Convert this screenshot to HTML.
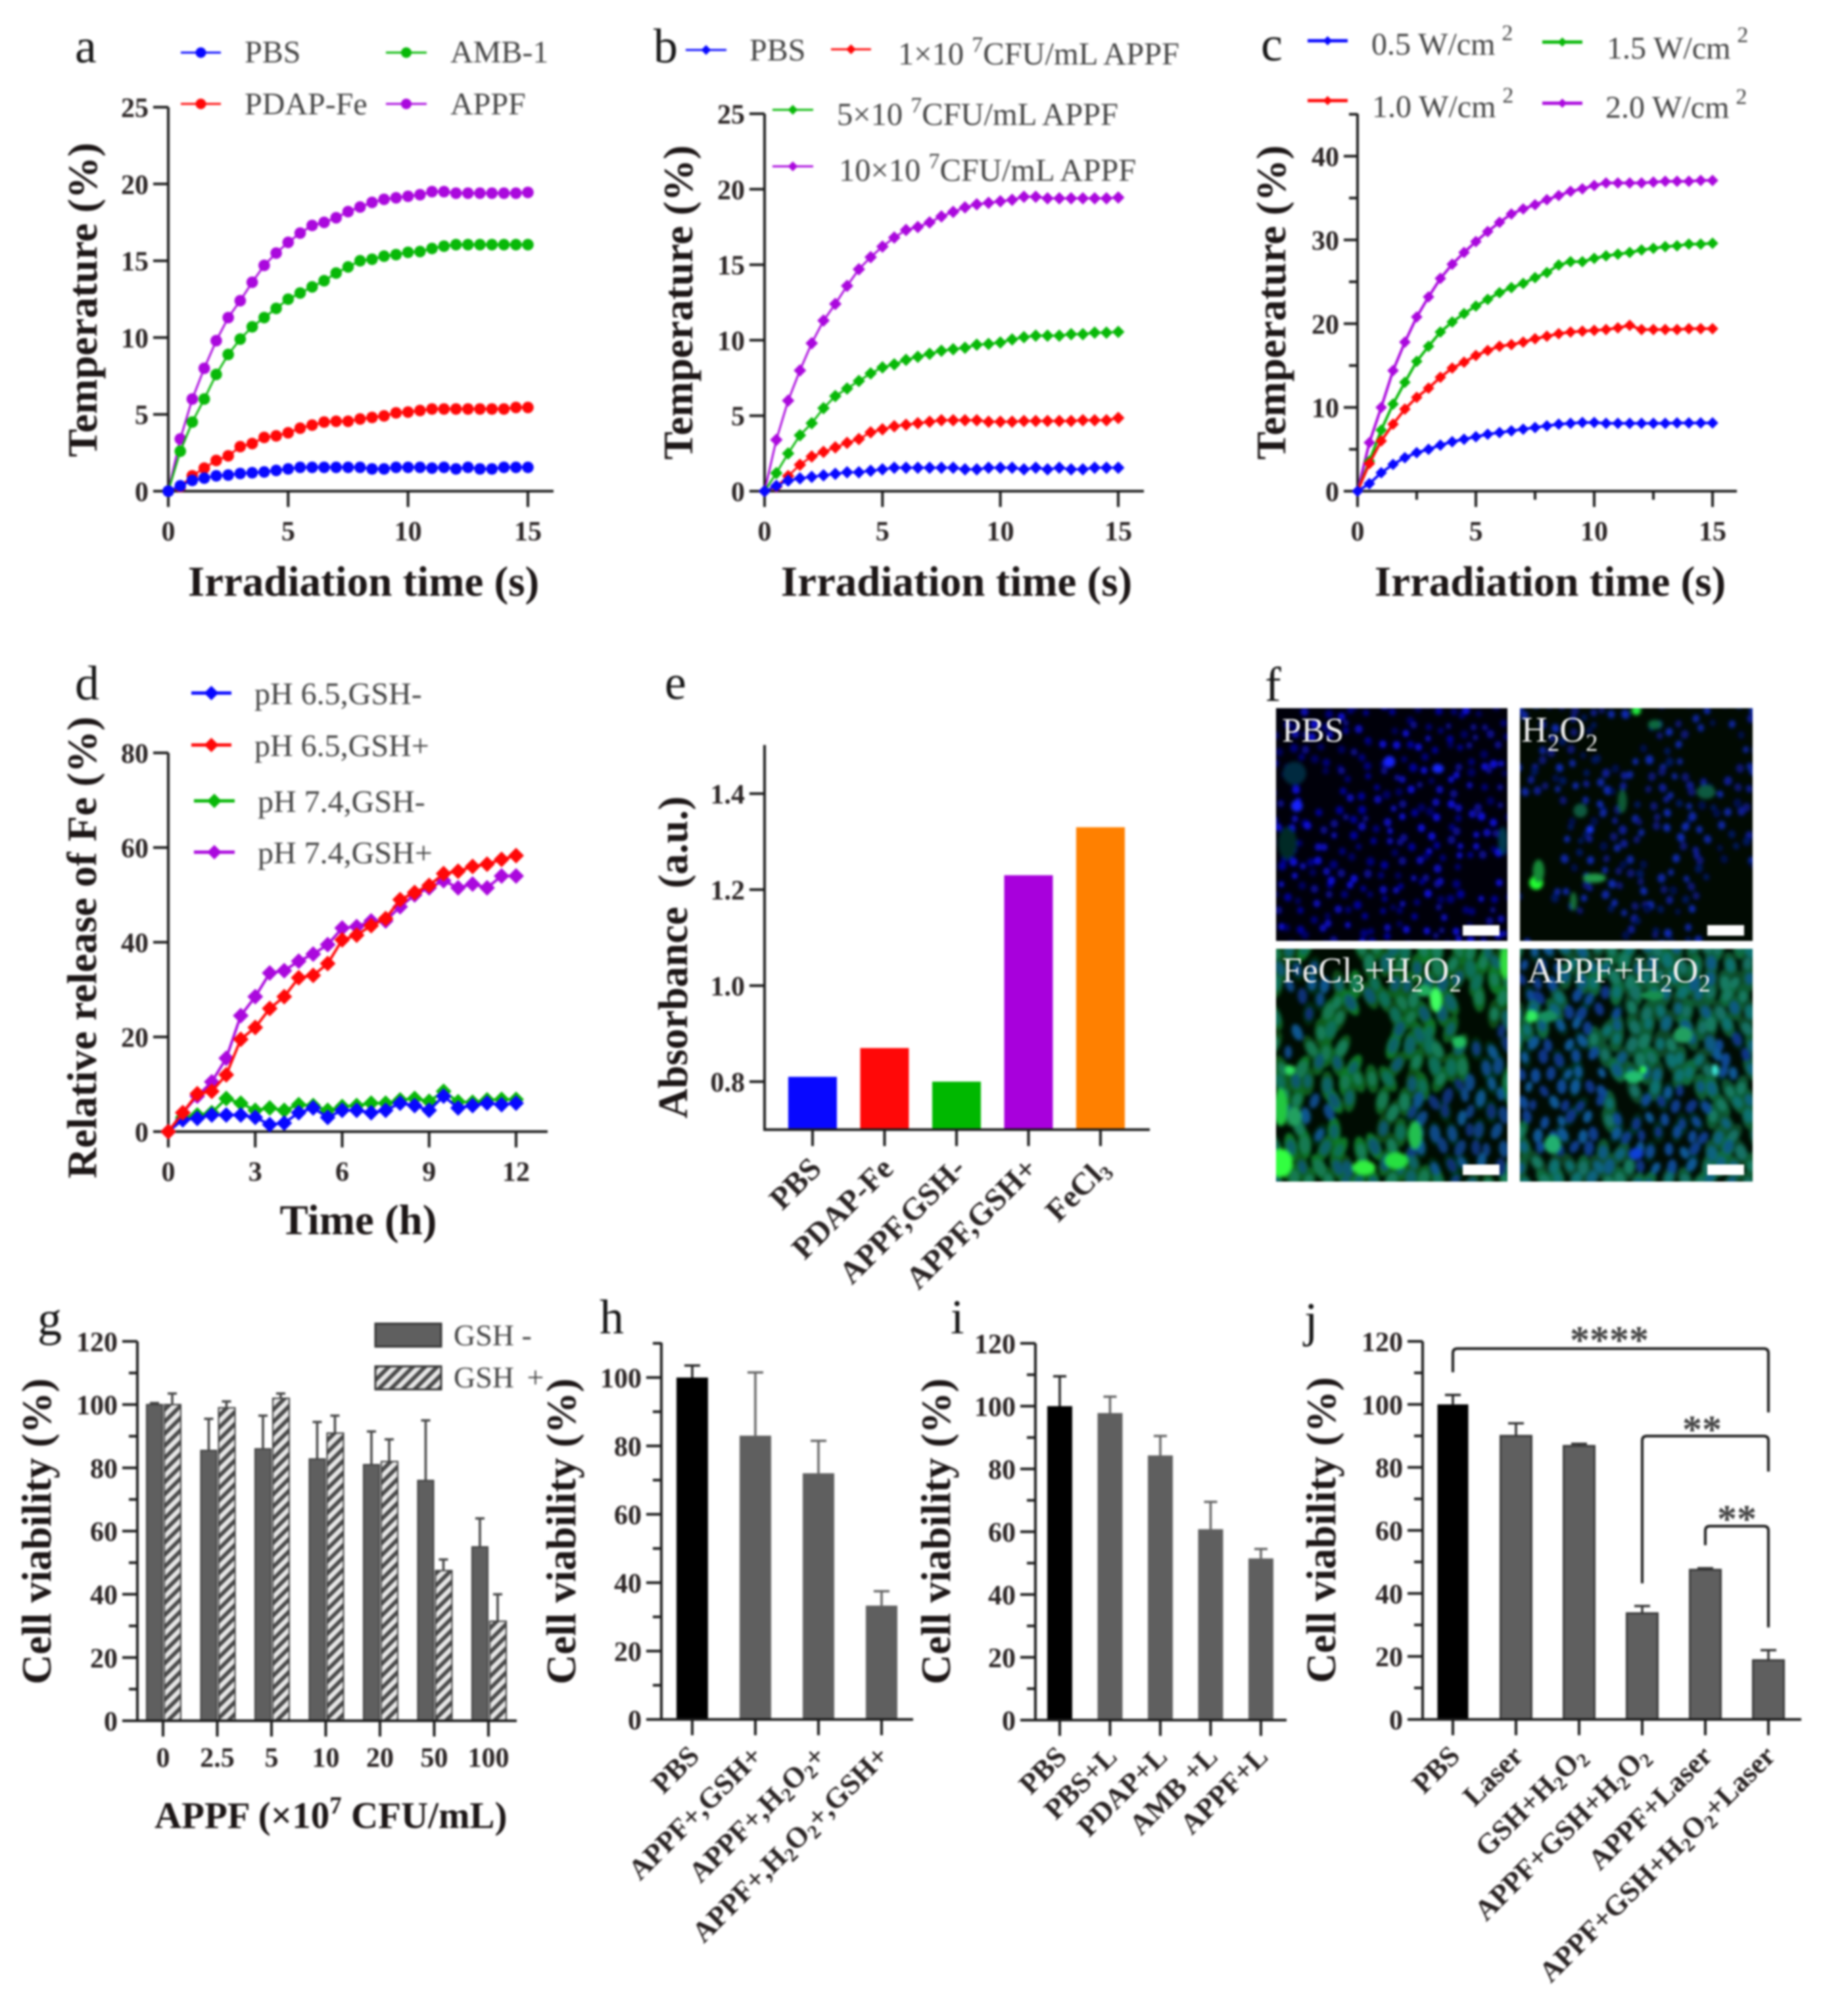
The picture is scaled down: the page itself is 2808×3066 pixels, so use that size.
<!DOCTYPE html>
<html lang="en">
<head>
<meta charset="utf-8">
<title>Multi-panel figure a–j</title>
<style>
html,body{margin:0;padding:0;background:#fff;}
#figure{display:block;width:2808px;height:3066px;filter:blur(1.5px);}
text{font-family:"Liberation Serif",serif;}
.ttl{font-weight:700;font-size:64px;fill:#1c1616;}
.ttlx{font-weight:700;font-size:65px;fill:#1c1616;}
.ttl2{font-weight:700;font-size:63px;fill:#1c1616;}
.tick{font-weight:700;font-size:42px;fill:#2a2424;}
.cat{font-weight:700;font-size:44px;fill:#2a2424;}
.leg{font-size:48px;fill:#444;}
.let{font-size:74px;fill:#161616;}
.pl{font-size:55px;fill:#f0f0f0;}
.star{font-size:60px;fill:#444;font-weight:700;}
</style>
</head>
<body>
<svg id="figure" xmlns="http://www.w3.org/2000/svg" width="2808" height="3066" viewBox="0 0 2808 3066">
<defs>
<pattern id="hatch" patternUnits="userSpaceOnUse" width="13" height="13" patternTransform="rotate(45)">
<rect width="13" height="13" fill="#e6e6e6"/>
<rect x="0" width="6" height="13" fill="#4a4a4a"/>
</pattern>
<filter id="soft" x="-5%" y="-5%" width="110%" height="110%"><feGaussianBlur stdDeviation="2.6"/></filter>
<clipPath id="clipF1"><rect x="1941" y="1077" width="352" height="354"/></clipPath>
<clipPath id="clipF2"><rect x="2312" y="1077" width="354" height="354"/></clipPath>
<clipPath id="clipF3"><rect x="1941" y="1443" width="352" height="354"/></clipPath>
<clipPath id="clipF4"><rect x="2312" y="1443" width="354" height="354"/></clipPath>
</defs>

<!-- panel letters -->
<text class="let" x="114" y="95">a</text>
<text class="let" x="994" y="95">b</text>
<text class="let" x="1918" y="92">c</text>
<text class="let" x="114" y="1064">d</text>
<text class="let" x="1011" y="1063">e</text>
<text class="let" x="1924" y="1066">f</text>
<text class="let" x="57" y="2030">g</text>
<text class="let" x="912" y="2028">h</text>
<text class="let" x="1446" y="2028">i</text>
<text class="let" x="1984" y="2032">j</text>

<!-- axis titles -->
<text class="ttl" text-anchor="middle" transform="translate(147,456) rotate(-90)">Temperature (%)</text>
<text class="ttlx" text-anchor="middle" x="553" y="906">Irradiation time (s)</text>
<text class="ttl" text-anchor="middle" transform="translate(1053,460) rotate(-90)">Temperature (%)</text>
<text class="ttlx" text-anchor="middle" x="1455" y="906">Irradiation time (s)</text>
<text class="ttl" text-anchor="middle" transform="translate(1955,460) rotate(-90)">Temperature (%)</text>
<text class="ttlx" text-anchor="middle" x="2358" y="906">Irradiation time (s)</text>
<text class="ttl" text-anchor="middle" transform="translate(146,1441) rotate(-90)">Relative release of Fe (%)</text>
<text class="ttlx" text-anchor="middle" x="545" y="1877">Time (h)</text>
<text class="ttl2" text-anchor="middle" transform="translate(1045,1456) rotate(-90)">Absorbance<tspan dx="28">(a.u.)</tspan></text>
<text class="ttl2" text-anchor="middle" transform="translate(77,2329) rotate(-90)">Cell viability (%)</text>
<text class="ttl" style="font-size:57px" x="235" y="2780">APPF (×10<tspan dy="-22" font-size="37">7</tspan><tspan dy="22"> CFU/mL)</tspan></text>
<text class="ttl2" text-anchor="middle" transform="translate(875,2329) rotate(-90)">Cell viability (%)</text>
<text class="ttl2" text-anchor="middle" transform="translate(1445,2329) rotate(-90)">Cell viability (%)</text>
<text class="ttl2" text-anchor="middle" transform="translate(2031,2327) rotate(-90)">Cell viability (%)</text>

<!-- legend text -->
<text class="leg" x="372" y="95">PBS</text>
<text class="leg" x="685" y="95">AMB-1</text>
<text class="leg" x="372" y="174">PDAP-Fe</text>
<text class="leg" x="685" y="174">APPF</text>

<text class="leg" x="1140" y="92">PBS</text>
<text class="leg" style="font-size:48.5px" x="1366" y="98">1×10 <tspan dy="-19" font-size="34">7</tspan><tspan dy="19">CFU/mL APPF</tspan></text>
<text class="leg" style="font-size:48.5px" x="1273" y="190">5×10 <tspan dy="-19" font-size="34">7</tspan><tspan dy="19">CFU/mL APPF</tspan></text>
<text class="leg" style="font-size:48.5px" x="1276" y="275">10×10 <tspan dy="-19" font-size="34">7</tspan><tspan dy="19">CFU/mL APPF</tspan></text>

<text class="leg" x="2086" y="83">0.5 W/cm<tspan dx="10" dy="-22" font-size="34">2</tspan></text>
<text class="leg" x="2444" y="89">1.5 W/cm<tspan dx="10" dy="-25" font-size="34">2</tspan></text>
<text class="leg" x="2087" y="178">1.0 W/cm<tspan dx="10" dy="-22" font-size="34">2</tspan></text>
<text class="leg" x="2442" y="179">2.0 W/cm<tspan dx="10" dy="-21" font-size="34">2</tspan></text>

<text class="leg" x="387" y="1071">pH 6.5,GSH-</text>
<text class="leg" x="387" y="1150">pH 6.5,GSH+</text>
<text class="leg" x="392" y="1235">pH 7.4,GSH-</text>
<text class="leg" x="392" y="1313">pH 7.4,GSH+</text>

<rect x="571" y="2013" width="100" height="35" fill="#5f5f5f" stroke="#333" stroke-width="3"/>
<rect x="571" y="2078" width="100" height="35" fill="url(#hatch)" stroke="#333" stroke-width="3"/>
<text class="leg" style="font-size:46px" x="690" y="2046">GSH -</text>
<text class="leg" style="font-size:46px" x="690" y="2110">GSH <tspan dx="8">+</tspan></text>

<g id="layerF"></g>
<g id="layerCharts"></g>

<!-- panel f overlays -->
<g>
<text class="pl" style="font-size:53px" x="1950" y="1128">PBS</text>
<text class="pl" x="2314" y="1128">H<tspan dy="14" font-size="37">2</tspan><tspan dy="-14">O</tspan><tspan dy="14" font-size="37">2</tspan></text>
<text class="pl" x="1950" y="1494">FeCl<tspan dy="14" font-size="37">3</tspan><tspan dy="-14">+H</tspan><tspan dy="14" font-size="37">2</tspan><tspan dy="-14">O</tspan><tspan dy="14" font-size="37">2</tspan></text>
<text class="pl" x="2323" y="1494">APPF+H<tspan dy="14" font-size="37">2</tspan><tspan dy="-14">O</tspan><tspan dy="14" font-size="37">2</tspan></text>
<rect x="2225" y="1407" width="56" height="16" fill="#fff"/>
<rect x="2597" y="1407" width="56" height="16" fill="#fff"/>
<rect x="2225" y="1771" width="56" height="16" fill="#fff"/>
<rect x="2597" y="1771" width="56" height="16" fill="#fff"/>
</g>

<!-- panel j significance -->
<g fill="none" stroke="#1c1c1c" stroke-width="4">
<path d="M2210 2087 V2058 Q2210 2051 2217 2051 H2683 Q2690 2051 2690 2058 V2148"/>
<path d="M2498 2408 V2191 Q2498 2184 2505 2184 H2683 Q2690 2184 2690 2191 V2238"/>
<path d="M2594 2350 V2328 Q2594 2321 2601 2321 H2683 Q2690 2321 2690 2328 V2475"/>
</g>
<text class="star" text-anchor="middle" x="2448" y="2058">****</text>
<text class="star" text-anchor="middle" x="2589" y="2194">**</text>
<text class="star" text-anchor="middle" x="2642" y="2330">**</text>
</svg>

<script>
/* ---------- chart data ---------- */
const timeSeconds = [0,0.5,1,1.5,2,2.5,3,3.5,4,4.5,5,5.5,6,6.5,7,7.5,8,8.5,9,9.5,10,10.5,11,11.5,12,12.5,13,13.5,14,14.5,15];
const timeHours = [0,0.5,1,1.5,2,2.5,3,3.5,4,4.5,5,5.5,6,6.5,7,7.5,8,8.5,9,9.5,10,10.5,11,11.5,12];

const aPBS = [0,.35,.7,.85,1,1.05,1.15,1.2,1.25,1.35,1.45,1.55,1.55,1.55,1.55,1.55,1.55,1.45,1.45,1.55,1.55,1.55,1.5,1.55,1.45,1.55,1.45,1.45,1.55,1.55,1.55];
const aPDAP = [0,.3,1.0,1.5,2.0,2.3,2.9,3.1,3.5,3.6,3.8,4.1,4.3,4.5,4.55,4.55,4.7,4.8,4.9,5.1,5.15,5.25,5.35,5.35,5.35,5.35,5.35,5.35,5.35,5.45,5.45];
const aAMB = [0,2.6,4.5,6,7.6,8.9,9.9,10.7,11.3,11.9,12.5,12.9,13.3,13.7,14.2,14.6,15,15.1,15.3,15.4,15.55,15.6,15.8,15.95,16.05,16.05,16.05,16.05,16.05,16.05,16.05];
const aAPPF = [0,3.4,6,8,9.8,11.3,12.4,13.6,14.7,15.5,16.2,16.8,17.3,17.5,17.8,18.2,18.5,18.8,19,19.1,19.2,19.3,19.5,19.5,19.4,19.4,19.4,19.4,19.4,19.4,19.45];

const bPBS = [0,.35,.7,.85,.95,1.05,1.15,1.25,1.25,1.35,1.45,1.55,1.55,1.55,1.55,1.55,1.55,1.45,1.45,1.55,1.55,1.55,1.45,1.55,1.45,1.55,1.45,1.45,1.55,1.55,1.55];
const b1e7 = [0,.3,1,1.75,2.3,2.6,2.9,3.2,3.45,3.9,4.1,4.3,4.4,4.5,4.6,4.7,4.7,4.7,4.7,4.6,4.6,4.6,4.65,4.65,4.65,4.65,4.65,4.7,4.7,4.7,4.85];
const b5e7 = [0,1.2,2.5,3.7,4.5,5.5,6.3,6.8,7.3,7.8,8.2,8.4,8.7,8.9,9.1,9.3,9.4,9.5,9.7,9.75,9.85,10.05,10.2,10.3,10.3,10.3,10.4,10.4,10.5,10.5,10.55];
const b10e7 = [0,3.4,6,8,9.8,11.3,12.4,13.6,14.7,15.5,16.2,16.8,17.3,17.5,17.8,18.2,18.5,18.8,19,19.1,19.2,19.3,19.5,19.5,19.4,19.4,19.4,19.4,19.4,19.4,19.45];

const c05 = [0,.9,2.2,3.2,4,4.6,5,5.5,5.9,6.2,6.5,6.8,7,7.2,7.4,7.6,7.8,8,8.1,8.2,8.2,8.1,8.1,8.1,8.1,8.1,8.1,8.15,8.15,8.15,8.15];
const c10 = [0,3.3,6,8,9.8,11.2,12.3,13.6,14.7,15.4,16.2,16.8,17.3,17.5,17.8,18.2,18.5,18.8,19,19.1,19.2,19.3,19.5,19.8,19.3,19.3,19.3,19.3,19.4,19.4,19.4];
const c15 = [0,3.6,7.3,10.4,13,15.5,17.3,19,20.2,21.2,22.1,22.9,23.7,24.3,24.8,25.5,26.1,27,27.4,27.4,27.8,28.1,28.3,28.5,28.8,29,29.2,29.3,29.5,29.5,29.6];
const c20 = [0,5.8,10,14.4,17.8,20.8,23.2,25.4,27.1,28.5,29.8,31,32.1,33.1,33.7,34.2,34.8,35.3,35.8,36.1,36.5,36.8,36.8,36.8,36.8,36.9,37,37,37,37.1,37.1];

const dBlue = [0,2.5,2.8,3.5,3.5,3.5,3,1.5,1.8,4,5,3,4.5,4.5,4,4.5,6,5.5,4.5,7.5,5,5.5,6,5.7,6];
const dRed = [0,4,8,8.5,12,19.5,22,26,28.5,32.5,33,35.5,40.5,41.5,43.5,45,49,50.5,52,54.5,55,56,56.5,57.5,58.3];
const dGreen = [0,3,3.5,4,7,6,4.5,5,4.5,5.7,5.5,4.5,5.3,5.5,6,6,6.7,7,6.4,8.5,6.3,6.2,6.7,6.8,6.8];
const dPurple = [0,4,7.5,10.5,15.5,24.5,28.5,33.5,34,36,37.5,39.5,43,43.3,44.5,44.5,47.5,50,51.5,53,51.5,52.3,51.5,54,54];

const eCategories = ["PBS","PDAP-Fe","APPF,GSH-","APPF,GSH+","FeCl_3"];
const eValues = [0.81,0.87,0.80,1.23,1.33];
const eTicks = [0.8,1.0,1.2,1.4];
const eTickLabels = ["0.8","1.0","1.2","1.4"];

const gCategories = ["0","2.5","5","10","20","50","100"];
const gMinus = [100,85.5,86,82.8,81,76,55];
const gMinusUpper = [100.5,95.5,96.5,94.5,91.5,95,64];
const gPlus = [100,99,102,91,82,47.5,31.5];
const gPlusUpper = [103.5,101,103.5,96.5,89,51,40];

const hCategories = ["PBS","APPF+,GSH+","APPF+,H_2O_2+","APPF+,H_2O_2+,GSH+"];
const hValues = [100,83,72,33.3];
const hUpper = [103.5,101.5,81.5,37.5];

const iCategories = ["PBS","PBS+L","PDAP+L","AMB +L","APPF+L"];
const iValues = [100,97.8,84.3,60.8,51.5];
const iUpper = [109.5,103,90.5,69.5,54.5];

const jCategories = ["PBS","Laser","GSH+H_2O_2","APPF+GSH+H_2O_2","APPF+Laser","APPF+GSH+H_2O_2+Laser"];
const jValues = [100,90,86.8,33.7,47.5,18.8];
const jUpper = [103,94,87.5,36,48,22];

const ticksTemp25 = [0,5,10,15,20,25];
const ticksTemp40 = [0,10,20,30,40];
const minorTemp40 = [5,15,25,35,45];
const ticksTime15 = [0,5,10,15];
const minorTime15 = [2.5,7.5,12.5];
const ticksTime12 = [0,3,6,9,12];
const ticksRelease = [0,20,40,60,80];
const ticksViability120 = [0,20,40,60,80,100,120];
const minorViability120 = [10,30,50,70,90,110];
const ticksViability100 = [0,20,40,60,80,100];
const minorViability100 = [10,30,50,70,90,110];

/* ---------- helpers ---------- */
const SVGNS = 'http://www.w3.org/2000/svg';
const chartLayer = document.getElementById('layerCharts');
const fLayer = document.getElementById('layerF');

function mk(parent, tag, attrs, name) {
  const el = document.createElementNS(SVGNS, tag);
  for (const k in attrs) el.setAttribute(k, attrs[k]);
  
  
  parent.appendChild(el);
  return el;
}
function linear(d0, d1, r0, r1) {
  return v => r0 + (v - d0) * (r1 - r0) / (d1 - d0);
}
const AXC = '#1c1c1c';
function drawAxes(g, o) {
  const p = o.prefix;
  mk(g, 'line', {x1:o.ox, x2:o.ox, y1:o.top, y2:o.oy + 2, stroke:AXC, 'stroke-width':4}, p + '-y-axis-line');
  mk(g, 'line', {x1:o.ox - (o.noZeroY ? 0 : o.ytl || 23), x2:o.xEnd, y1:o.oy, y2:o.oy, stroke:AXC, 'stroke-width':4}, p + '-x-axis-line');
  o.yTicks.forEach((v, i) => {
    const y = o.ys(v);
    mk(g, 'line', {x1:o.ox - (o.ytl || 23), x2:o.ox, y1:y, y2:y, stroke:AXC, 'stroke-width':4}, p + '-y-tick');
    const t = mk(g, 'text', {x:o.ox - (o.ytl || 23) - 7, y:y + 15, 'text-anchor':'end', class:'tick'}, p + '-y-tick-label');
    t.textContent = o.yLabels ? o.yLabels[i] : String(v);
  });
  (o.yMinor || []).forEach(v => {
    const y = o.ys(v);
    mk(g, 'line', {x1:o.ox - 13, x2:o.ox, y1:y, y2:y, stroke:AXC, 'stroke-width':4}, p + '-y-minor-tick');
  });
  (o.xTicks || []).forEach(v => {
    const x = o.xs(v);
    mk(g, 'line', {x1:x, x2:x, y1:o.oy, y2:o.oy + 24, stroke:AXC, 'stroke-width':4}, p + '-x-tick');
    const t = mk(g, 'text', {x:x, y:o.xLabelY, 'text-anchor':'middle', class:'tick'}, p + '-x-tick-label');
    t.textContent = String(v);
  });
  (o.xMinor || []).forEach(v => {
    const x = o.xs(v);
    mk(g, 'line', {x1:x, x2:x, y1:o.oy, y2:o.oy + 13, stroke:AXC, 'stroke-width':4}, p + '-x-minor-tick');
  });
}
function marker(g, shape, x, y, r, color, name) {
  if (shape === 'circle') {
    mk(g, 'circle', {cx:x, cy:y, r:r, fill:color}, name);
  } else {
    const pts = [[x, y - r],[x + r, y],[x, y + r],[x - r, y]].map(a => a.join(',')).join(' ');
    mk(g, 'polygon', {points:pts, fill:color}, name);
  }
}
function drawSeries(g, xVals, yVals, xs, ys, color, shape, r, lw, name) {
  const sg = mk(g, 'g', {}, name);
  const d = yVals.map((v, i) => xs(xVals[i]).toFixed(1) + ',' + ys(v).toFixed(1)).join(' ');
  mk(sg, 'polyline', {points:d, fill:'none', stroke:color, 'stroke-width':lw}, name + '-line');
  yVals.forEach((v, i) => marker(sg, shape, xs(xVals[i]), ys(v), r, color, name + '-point'));
}
function legendKey(g, x1, x2, y, color, shape, r, lw, name) {
  const kg = mk(g, 'g', {}, name);
  mk(kg, 'line', {x1:x1, x2:x2, y1:y, y2:y, stroke:color, 'stroke-width':lw}, name + '-line');
  marker(kg, shape, (x1 + x2) / 2, y, r, color, name + '-marker');
}
function richLabel(t, s) {
  /* "_n" marks a subscript digit */
  const parts = s.split(/_(\d)/);
  t.textContent = '';
  let shifted = false;
  parts.forEach((part, i) => {
    if (!part) return;
    const ts = document.createElementNS(SVGNS, 'tspan');
    if (i % 2 === 1) {
      ts.setAttribute('dy', '8');
      ts.setAttribute('font-size', '30');
      shifted = true;
    } else if (shifted) {
      ts.setAttribute('dy', '-8');
      shifted = false;
    }
    ts.textContent = part;
    t.appendChild(ts);
  });
}
function catLabel(g, x, y, s, name, size) {
  const t = mk(g, 'text', {class:'cat', 'text-anchor':'end', transform:'translate(' + x + ',' + y + ') rotate(-45)'}, name);
  if (size) t.style.fontSize = size + 'px';
  richLabel(t, s);
}
function errorBar(g, x, y0, y1, color, cap, name) {
  mk(g, 'line', {x1:x, x2:x, y1:y0, y2:y1, stroke:color, 'stroke-width':3.5}, name);
  mk(g, 'line', {x1:x - cap, x2:x + cap, y1:y1, y2:y1, stroke:color, 'stroke-width':3.5}, name + '-cap');
}

const BLUE = '#0808ff', RED = '#ff0808', GREEN = '#08b808', PURPLE = '#aa08dd', ORANGE = '#ff8000';

/* ---------- panel a ---------- */
(function(){
  const g = mk(chartLayer, 'g', {}, 'panel-a-temperature-chart');
  const xs = linear(0, 15, 256, 803), ys = linear(0, 25, 747, 163);
  drawAxes(g, {prefix:'a', ox:256, oy:747, top:163, xEnd:842, xs, ys, yTicks:ticksTemp25, xTicks:ticksTime15, xLabelY:822});
  drawSeries(g, timeSeconds, aPDAP, xs, ys, RED, 'circle', 8.8, 3, 'a-series-pdap-fe');
  drawSeries(g, timeSeconds, aAPPF, xs, ys, PURPLE, 'circle', 8.8, 3, 'a-series-appf');
  drawSeries(g, timeSeconds, aAMB, xs, ys, GREEN, 'circle', 8.8, 3, 'a-series-amb1');
  drawSeries(g, timeSeconds, aPBS, xs, ys, BLUE, 'circle', 8.8, 3, 'a-series-pbs');
  legendKey(g, 275, 336, 80, BLUE, 'circle', 8, 3, 'a-legend-key-pbs');
  legendKey(g, 587, 649, 80, GREEN, 'circle', 8, 3, 'a-legend-key-amb1');
  legendKey(g, 275, 336, 158, RED, 'circle', 8, 3, 'a-legend-key-pdap-fe');
  legendKey(g, 587, 649, 158, PURPLE, 'circle', 8, 3, 'a-legend-key-appf');
})();

/* ---------- panel b ---------- */
(function(){
  const g = mk(chartLayer, 'g', {}, 'panel-b-temperature-chart');
  const xs = linear(0, 15, 1163, 1701), ys = linear(0, 25, 747, 173);
  drawAxes(g, {prefix:'b', ox:1163, oy:747, top:173, xEnd:1740, xs, ys, yTicks:ticksTemp25, xTicks:ticksTime15, xLabelY:822});
  drawSeries(g, timeSeconds, b10e7, xs, ys, PURPLE, 'diamond', 9.5, 3, 'b-series-10e7');
  drawSeries(g, timeSeconds, b5e7, xs, ys, GREEN, 'diamond', 9.5, 3, 'b-series-5e7');
  drawSeries(g, timeSeconds, b1e7, xs, ys, RED, 'diamond', 9.5, 3, 'b-series-1e7');
  drawSeries(g, timeSeconds, bPBS, xs, ys, BLUE, 'diamond', 9.5, 3, 'b-series-pbs');
  legendKey(g, 1043, 1105, 76, BLUE, 'diamond', 7.5, 3, 'b-legend-key-pbs');
  legendKey(g, 1264, 1325, 75, RED, 'diamond', 7.5, 3, 'b-legend-key-1e7');
  legendKey(g, 1175, 1237, 167, GREEN, 'diamond', 7.5, 3, 'b-legend-key-5e7');
  legendKey(g, 1175, 1237, 253, PURPLE, 'diamond', 7.5, 3, 'b-legend-key-10e7');
})();

/* ---------- panel c ---------- */
(function(){
  const g = mk(chartLayer, 'g', {}, 'panel-c-temperature-chart');
  const xs = linear(0, 15, 2065, 2605), ys = linear(0, 40, 747, 237.5);
  drawAxes(g, {prefix:'c', ox:2065, oy:747, top:173, xEnd:2642, xs, ys, yTicks:ticksTemp40, yMinor:minorTemp40, xTicks:ticksTime15, xMinor:minorTime15, xLabelY:822, ytl:21});
  drawSeries(g, timeSeconds, c20, xs, ys, PURPLE, 'diamond', 8.8, 4, 'c-series-2-0');
  drawSeries(g, timeSeconds, c15, xs, ys, GREEN, 'diamond', 8.8, 4, 'c-series-1-5');
  drawSeries(g, timeSeconds, c10, xs, ys, RED, 'diamond', 8.8, 4, 'c-series-1-0');
  drawSeries(g, timeSeconds, c05, xs, ys, BLUE, 'diamond', 8.8, 4, 'c-series-0-5');
  legendKey(g, 1989, 2050, 62, BLUE, 'diamond', 7, 5, 'c-legend-key-0-5');
  legendKey(g, 2346, 2407, 64, GREEN, 'diamond', 7, 5, 'c-legend-key-1-5');
  legendKey(g, 1989, 2050, 153, RED, 'diamond', 7, 5, 'c-legend-key-1-0');
  legendKey(g, 2346, 2407, 157, PURPLE, 'diamond', 7, 5, 'c-legend-key-2-0');
})();

/* ---------- panel d ---------- */
(function(){
  const g = mk(chartLayer, 'g', {}, 'panel-d-fe-release-chart');
  const xs = linear(0, 12, 256, 785), ys = linear(0, 80, 1721, 1145);
  drawAxes(g, {prefix:'d', ox:256, oy:1721, top:1145, xEnd:833, xs, ys, yTicks:ticksRelease, xTicks:ticksTime12, xLabelY:1796});
  drawSeries(g, timeHours, dGreen, xs, ys, GREEN, 'diamond', 12, 4, 'd-series-ph74-gsh-minus');
  drawSeries(g, timeHours, dBlue, xs, ys, BLUE, 'diamond', 12, 4, 'd-series-ph65-gsh-minus');
  drawSeries(g, timeHours, dPurple, xs, ys, PURPLE, 'diamond', 12, 4, 'd-series-ph74-gsh-plus');
  drawSeries(g, timeHours, dRed, xs, ys, RED, 'diamond', 12, 4, 'd-series-ph65-gsh-plus');
  legendKey(g, 291, 352, 1054, BLUE, 'diamond', 11, 5, 'd-legend-key-ph65-gsh-minus');
  legendKey(g, 291, 352, 1133, RED, 'diamond', 11, 5, 'd-legend-key-ph65-gsh-plus');
  legendKey(g, 295, 357, 1218, GREEN, 'diamond', 11, 5, 'd-legend-key-ph74-gsh-minus');
  legendKey(g, 295, 357, 1296, PURPLE, 'diamond', 11, 5, 'd-legend-key-ph74-gsh-plus');
})();

/* ---------- panel e ---------- */
(function(){
  const g = mk(chartLayer, 'g', {}, 'panel-e-absorbance-chart');
  const eColors = [BLUE, RED, '#00b800', '#a800dc', ORANGE];
  const ys = linear(0.8, 1.4, 1645, 1207);
  const xc = i => 1236 + i * 109.5;
  eValues.forEach((v, i) => {
    mk(g, 'rect', {x:xc(i) - 37, width:74, y:ys(v), height:ys(0.7) - ys(v), fill:eColors[i]}, 'e-bar');
  });
  drawAxes(g, {prefix:'e', ox:1163, oy:ys(0.7), top:1133, xEnd:1749, ys, yTicks:eTicks, yLabels:eTickLabels, noZeroY:true});
  eCategories.forEach((c, i) => {
    mk(g, 'line', {x1:xc(i), x2:xc(i), y1:ys(0.7), y2:ys(0.7) + 25, stroke:AXC, 'stroke-width':4}, 'e-x-tick');
    catLabel(g, xc(i) + 16, ys(0.7) + 62, c, 'e-x-tick-label', 48);
  });
})();

/* ---------- panel g ---------- */
(function(){
  const g = mk(chartLayer, 'g', {}, 'panel-g-cell-viability-chart');
  const ys = linear(0, 120, 2617, 2040);
  const xc = i => 248 + i * 82.5;
  gCategories.forEach((c, i) => {
    mk(g, 'rect', {x:xc(i) - 25, width:24, y:ys(gMinus[i]), height:ys(0) - ys(gMinus[i]), fill:'#5f5f5f', stroke:'#3a3a3a', 'stroke-width':2}, 'g-bar-gsh-minus');
    errorBar(g, xc(i) - 13, ys(gMinus[i]), ys(gMinusUpper[i]), '#444', 7, 'g-error-gsh-minus');
    mk(g, 'rect', {x:xc(i) + 2, width:25, y:ys(gPlus[i]), height:ys(0) - ys(gPlus[i]), fill:'url(#hatch)', stroke:'#3a3a3a', 'stroke-width':2}, 'g-bar-gsh-plus');
    errorBar(g, xc(i) + 14, ys(gPlus[i]), ys(gPlusUpper[i]), '#444', 7, 'g-error-gsh-plus');
    mk(g, 'line', {x1:xc(i), x2:xc(i), y1:ys(0), y2:ys(0) + 24, stroke:AXC, 'stroke-width':4}, 'g-x-tick');
    const t = mk(g, 'text', {x:xc(i), y:2687, 'text-anchor':'middle', class:'tick'}, 'g-x-tick-label');
    t.textContent = c;
  });
  drawAxes(g, {prefix:'g', ox:209, oy:ys(0), top:2040, xEnd:786, ys, yTicks:ticksViability120, yMinor:minorViability120});
})();

/* ---------- shared single-series bar panels ---------- */
function singleBars(o) {
  const g = mk(chartLayer, 'g', {}, o.name);
  o.categories.forEach((c, i) => {
    const x = o.x0 + i * o.step;
    const col = i === 0 ? '#000' : '#5f5f5f';
    mk(g, 'rect', {x:x - o.bw / 2, width:o.bw, y:o.ys(o.values[i]), height:o.ys(0) - o.ys(o.values[i]), fill:col, stroke:o.border && i > 0 ? '#3a3a3a' : 'none', 'stroke-width':o.border ? 3 : 0}, o.prefix + '-bar');
    errorBar(g, x, o.ys(o.values[i]), o.ys(o.upper[i]), i === 0 ? '#222' : o.errColor, o.cap, o.prefix + '-error');
    mk(g, 'line', {x1:x, x2:x, y1:o.ys(0), y2:o.ys(0) + 24, stroke:AXC, 'stroke-width':4}, o.prefix + '-x-tick');
    catLabel(g, x + 13, o.ys(0) + 58, c, o.prefix + '-x-tick-label');
  });
  drawAxes(g, {prefix:o.prefix, ox:o.ox, oy:o.ys(0), top:o.top, xEnd:o.xEnd, ys:o.ys, yTicks:o.ticks, yMinor:o.minor});
}
singleBars({name:'panel-h-cell-viability-chart', prefix:'h', categories:hCategories, values:hValues, upper:hUpper,
  ys:linear(0, 100, 2615, 2095), x0:1053, step:96, bw:48, cap:12, errColor:'#666', ox:1006, top:2042, xEnd:1389, ticks:ticksViability100, minor:minorViability100});
singleBars({name:'panel-i-cell-viability-chart', prefix:'i', categories:iCategories, values:iValues, upper:iUpper,
  ys:linear(0, 120, 2616, 2043), x0:1612, step:76.5, bw:38, cap:10, errColor:'#666', ox:1575, top:2043, xEnd:1957, ticks:ticksViability120, minor:minorViability120});
singleBars({name:'panel-j-cell-viability-chart', prefix:'j', categories:jCategories, values:jValues, upper:jUpper,
  ys:linear(0, 120, 2615, 2040), x0:2210, step:96, bw:47, cap:12, errColor:'#333', border:true, ox:2164, top:2040, xEnd:2740, ticks:ticksViability120, minor:minorViability120});

/* ---------- panel f: fluorescence micrograph textures ---------- */
let seed = 12345;
function rnd() {
  seed = (seed * 1664525 + 1013904223) % 4294967296;
  return seed / 4294967296;
}
function inAny(list, fx, fy) {
  return list.some(h => {
    const dx = (fx - h[0]) / h[2], dy = (fy - h[1]) / h[3];
    return dx * dx + dy * dy < 1;
  });
}
function pick(list) {
  return list[Math.floor(rnd() * list.length)];
}
function micrograph(o) {
  const g = mk(fLayer, 'g', {'clip-path':'url(#' + o.clip + ')'}, o.name);
  mk(g, 'rect', {x:o.x, y:o.y, width:o.w, height:o.h, fill:o.bg}, o.name + '-background');
  const soft = mk(g, 'g', {filter:'url(#soft)'}, o.name + '-cells');
  const n = Math.round(o.w / o.sp);
  const nuclei = [];
  for (let j = 0; j <= n; j++) {
    for (let i = 0; i <= n; i++) {
      const fx = (i + 0.5 * (j % 2) + (rnd() - 0.5) * o.jit) / n;
      const fy = (j + (rnd() - 0.5) * o.jit) / n;
      if (inAny(o.holes, fx, fy)) continue;
      const cx = o.x + fx * o.w, cy = o.y + fy * o.h;
      const rot = o.tilt ? Math.round((rnd() - 0.5) * o.tilt) : 0;
      const tr = 'rotate(' + rot + ' ' + cx.toFixed(1) + ' ' + cy.toFixed(1) + ')';
      const blueZone = o.blue ? inAny(o.blue, fx, fy) : false;
      if (o.body && !blueZone) {
        mk(soft, 'ellipse', {cx:cx, cy:cy, rx:o.sp * o.bodyW, ry:o.sp * 0.85, transform:tr, fill:pick(o.body)}, 'cell-body');
      } else if (o.body && rnd() < 0.4) {
        mk(soft, 'ellipse', {cx:cx, cy:cy, rx:o.sp * 0.35, ry:o.sp * 0.7, transform:tr, fill:o.body[0], opacity:0.4}, 'cell-body');
      }
      nuclei.push({cx, cy, tr, col:blueZone ? pick(o.nucBlue || o.nuc) : pick(o.nuc), k:0.8 + rnd() * 0.35});
    }
  }
  nuclei.forEach(c => {
    mk(soft, 'ellipse', {cx:c.cx, cy:c.cy, rx:o.rx * c.k, ry:o.ry * c.k, transform:c.tr, fill:c.col}, 'cell-nucleus');
  });
  o.spots.forEach(s => {
    mk(soft, 'ellipse', {cx:o.x + s[0] * o.w, cy:o.y + s[1] * o.h, rx:s[2] * o.w, ry:s[3] * o.h, fill:s[4]}, 'bright-cell');
  });
}
micrograph({name:'f-image-pbs', clip:'clipF1', x:1941, y:1077, w:352, h:354, bg:'#00000a', sp:21, jit:0.95, rx:5.4, ry:5.8, tilt:0,
  holes:[[.2,.35,.09,.07],[.87,.72,.07,.09],[.45,.06,.12,.04]],
  nuc:['#0808c0','#0606a0','#050580','#0a10e0','#050568','#070790'],
  spots:[[.08,.28,.05,.05,'#062c40'],[.05,.58,.04,.07,'#052c28'],[.98,.57,.02,.06,'#063a50'],[.49,.23,.025,.025,'#1820ff'],[.70,.26,.025,.02,'#1428ff'],[.09,.42,.025,.025,'#1420ff']]});
micrograph({name:'f-image-h2o2', clip:'clipF2', x:2312, y:1077, w:354, h:354, bg:'#010a02', sp:21, jit:0.95, rx:5.4, ry:6.2, tilt:40,
  holes:[[.08,.62,.1,.24],[.82,.2,.12,.12],[.42,.12,.12,.09],[.92,.88,.14,.24],[.2,.95,.22,.08],[.05,.12,.06,.08],[.62,.62,.03,.1]],
  nuc:['#0a1c98','#081678','#0a28a8','#061260','#0c2cb8','#060e50'],
  spots:[[.07,.75,.03,.03,'#22ff30'],[.08,.70,.025,.05,'#178a38'],[.32,.73,.05,.02,'#229a48'],[.23,.83,.015,.04,'#147038'],
         [.50,.01,.02,.02,'#22f040'],[.58,.07,.03,.02,'#0c6a40'],[.44,.40,.02,.05,'#0c5a34'],[.26,.44,.03,.03,'#0c5a40'],[.80,.36,.04,.03,'#0c5a40'],[.30,.52,.015,.015,'#1838ff']]});
micrograph({name:'f-image-fecl3-h2o2', clip:'clipF3', x:1941, y:1443, w:352, h:354, bg:'#000c02', sp:26, jit:0.55, rx:7, ry:12, tilt:60, bodyW:0.38,
  holes:[[.40,.38,.10,.15],[.37,.74,.10,.09],[.85,.30,.09,.08],[.04,.28,.04,.09],[.05,.80,.07,.04],[.30,.03,.22,.03]],
  blue:[[.80,.78,.26,.22],[.92,.45,.1,.14],[.14,.18,.1,.12],[.18,.70,.06,.12],[.06,.4,.05,.06]],
  body:['#085a1c','#0a6822','#084c18','#0c7828','#0a6220'], nuc:['#10705a','#0e6468','#147a52','#0c5870','#127e5a'],
  nucBlue:['#0c4a88','#0a3c80','#0e5690','#083078'],
  spots:[[.02,.92,.05,.06,'#30ff40'],[.38,.94,.05,.03,'#30f040'],[.52,.91,.05,.035,'#28e040'],[.69,.22,.025,.05,'#40ff60'],[.99,.06,.02,.07,'#30e040'],
         [.02,.68,.03,.08,'#20c840'],[.06,.52,.02,.02,'#30e060'],[.79,.40,.03,.025,'#20c060'],[.60,.80,.03,.06,'#20c050'],[.08,.72,.03,.04,'#20a060'],[.64,.18,.03,.025,'#20b060']]});
micrograph({name:'f-image-appf-h2o2', clip:'clipF4', x:2312, y:1443, w:354, h:354, bg:'#010c04', sp:24, jit:0.55, rx:6.6, ry:10, tilt:70, bodyW:0.42,
  holes:[[.44,.63,.05,.05],[.74,.62,.04,.04]],
  blue:[[.18,.62,.2,.3],[.62,.78,.22,.18],[.08,.1,.1,.12],[.9,.45,.08,.1],[.3,.25,.14,.1]],
  body:['#0a5430','#0c5e36','#084628','#0e6c3c','#0a5a32'], nuc:['#106480','#107272','#147c64','#0e5a84','#127266'],
  nucBlue:['#0c4a96','#0a3c8e','#0e5898','#083488'],
  spots:[[.05,.29,.025,.025,'#30f060'],[.49,.55,.04,.025,'#20c070'],[.53,.52,.012,.015,'#30ff50'],[.84,.52,.012,.025,'#40f0e0'],
         [.14,.84,.035,.04,'#20b070'],[.7,.37,.04,.035,'#20a060'],[.57,.2,.05,.02,'#189050'],[.12,.29,.04,.025,'#189060'],[.5,.88,.03,.025,'#0c40d8']]});
</script>
</body>
</html>
